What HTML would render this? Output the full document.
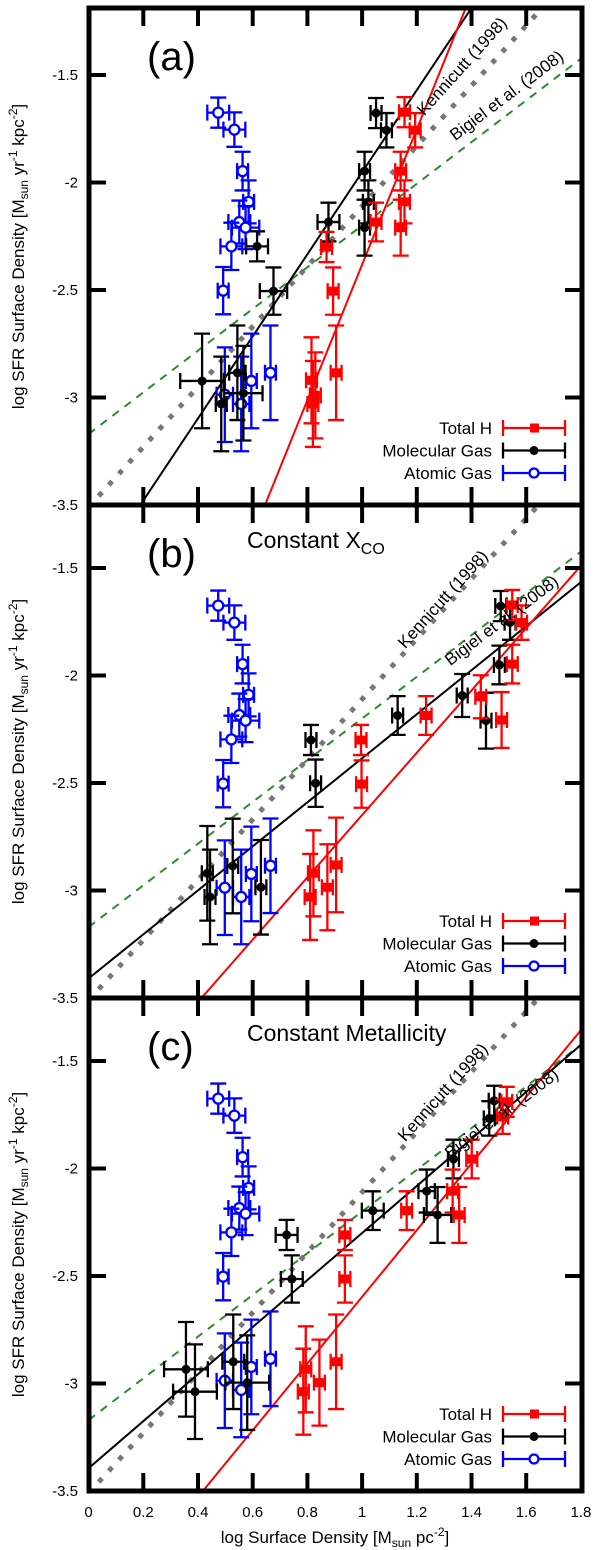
<!DOCTYPE html>
<html><head><meta charset="utf-8"><style>
html,body{margin:0;padding:0;background:#fff;width:600px;height:1550px;overflow:hidden}
svg{display:block;font-family:"Liberation Sans",sans-serif}
</style></head><body>
<svg id="chart" width="600" height="1550" viewBox="0 0 600 1550" xmlns="http://www.w3.org/2000/svg"></svg>
<script>
// ---- shared data ----
const xTicks = [0,0.2,0.4,0.6,0.8,1,1.2,1.4,1.6,1.8];
const xTickLabels = ["0","0.2","0.4","0.6","0.8","1","1.2","1.4","1.6","1.8"];
const yTicks = [-1.5,-2,-2.5,-3,-3.5];
const yTickLabels = ["-1.5","-2","-2.5","-3","-3.5"];
const panelNames = ["a","b","c"];
const panelTitles = ["", "Constant X", "Constant Metallicity"];
// Kennicutt & Bigiel relations: [slope, intercept]
const kennicuttFit = [1.4,-3.51];
const bigielFit = [0.97,-3.17];
// fitted lines per panel: [slope, intercept]
const blackFits = [[1.909,-3.861],[1.024,-3.409],[1.094,-3.394]];
const redFits = [[3.15,-5.532],[1.449,-4.098],[1.551,-4.148]];
// atomic gas (same in all panels)
const blueX = [0.474,0.533,0.563,0.585,0.551,0.574,0.522,0.492,0.498,0.558,0.595,0.665];
const blueY = [-1.675,-1.754,-1.947,-2.09,-2.184,-2.21,-2.297,-2.503,-2.987,-3.03,-2.923,-2.885];
const blueYerr = [0.07,0.08,0.09,0.1,0.1,0.1,0.11,0.11,0.22,0.22,0.22,0.22];
const blueXerr = [0.04,0.04,0.02,0.02,0.04,0.05,0.04,0.02,0.03,0.03,0.02,0.02];
// molecular gas
const blackX = [
 [1.051,1.089,1.009,1.023,1.009,0.877,0.616,0.676,0.415,0.485,0.544,0.566],
 [1.507,1.541,1.502,1.366,1.453,1.130,0.813,0.830,0.434,0.444,0.527,0.630],
 [1.483,1.465,1.334,1.236,1.276,1.039,0.724,0.743,0.356,0.389,0.529,0.580]];
const blackY = [
 [-1.677,-1.757,-1.947,-2.09,-2.21,-2.184,-2.297,-2.505,-2.923,-3.03,-2.885,-2.98],
 [-1.677,-1.754,-1.951,-2.093,-2.21,-2.186,-2.3,-2.501,-2.92,-3.03,-2.886,-2.985],
 [-1.685,-1.767,-1.956,-2.105,-2.216,-2.196,-2.309,-2.514,-2.934,-3.038,-2.899,-2.996]];
const blackYerr = [0.07,0.08,0.09,0.1,0.13,0.09,0.07,0.11,0.22,0.22,0.22,0.22];
const blackXerr = [
 [0.02,0.02,0.02,0.02,0.02,0.04,0.04,0.05,0.08,0.02,0.03,0.07],
 [0.02,0.02,0.02,0.02,0.02,0.02,0.02,0.02,0.02,0.02,0.02,0.02],
 [0.02,0.02,0.02,0.03,0.05,0.04,0.04,0.04,0.08,0.08,0.04,0.08]];
// total H
const redX = [
 [1.155,1.194,1.141,1.155,1.141,1.051,0.870,0.894,0.905,0.815,0.829,0.820],
 [1.549,1.583,1.549,1.434,1.510,1.234,0.996,0.998,0.905,0.822,0.873,0.810],
 [1.529,1.514,1.401,1.331,1.355,1.163,0.937,0.937,0.905,0.794,0.844,0.785]];
const redY = [
 [-1.673,-1.757,-1.947,-2.09,-2.21,-2.184,-2.3,-2.505,-2.885,-2.92,-2.99,-3.03],
 [-1.672,-1.754,-1.947,-2.099,-2.207,-2.186,-2.3,-2.505,-2.881,-2.92,-2.985,-3.03],
 [-1.69,-1.759,-1.956,-2.105,-2.216,-2.196,-2.309,-2.514,-2.899,-2.934,-2.996,-3.038]];
const redYerr = [0.07,0.08,0.09,0.1,0.13,0.09,0.07,0.11,0.22,0.2,0.2,0.2];
const redXerr = [0.02,0.02,0.02,0.02,0.02,0.02,0.02,0.02,0.02,0.02,0.02,0.02];

// ---- layout ----
const NS = "http://www.w3.org/2000/svg";
const svg = document.getElementById("chart");
const X0 = 88.6, XS = 273.5, LEFT = 89, RIGHT = 582, YS = 215;
const bottoms = [505, 998, 1491];
const tops = [8, 505, 998];
function sx(v){ return X0 + v*XS; }
function mk(tag, attrs, parent){
  const e = document.createElementNS(NS, tag);
  for (const k in attrs) e.setAttribute(k, attrs[k]);
  (parent||svg).appendChild(e);
  return e;
}
const defs = mk("defs",{});

panelNames.forEach((pn, p) => {
  const bot = bottoms[p], top = tops[p];
  const sy = v => bot - (v + 3.5) * YS;
  const g = mk("g", {});
  
  
  const cp = mk("clipPath", {id: "clip" + p}, defs);
  mk("rect", {x: LEFT, y: top, width: RIGHT - LEFT, height: bot - top}, cp);
  const plot = mk("g", {"clip-path": "url(#clip" + p + ")"}, g);

  function fitLine(fit, style, name){
    const l = mk("line", Object.assign({x1: sx(0), y1: sy(fit[1]), x2: sx(1.8), y2: sy(fit[0]*1.8 + fit[1]), fill: "none"}, style), plot);
    
    
  }
  fitLine(kennicuttFit, {stroke: "#777", "stroke-width": 5, "stroke-dasharray": "5 10"}, 'kennicutt-line');
  fitLine(bigielFit, {stroke: "#2e8b2e", "stroke-width": 2, "stroke-dasharray": "8 7"}, 'bigiel-line');
  fitLine(blackFits[p], {stroke: "#000", "stroke-width": 2}, 'molecular-fit-line');
  fitLine(redFits[p], {stroke: "#f00", "stroke-width": 2}, 'total-h-fit-line');

  function series(xs, ys, xe, ye, color, kind, name){
    const sg = mk("g", {stroke: color, "stroke-width": 2.3, fill: "none"}, plot);
    
    
    xs.forEach((xv, i) => {
      const cx = sx(xv), cy = sy(ys[i]);
      const ylo = sy(ys[i] - ye[i]), yhi = sy(ys[i] + ye[i]);
      const xl = sx(xv - xe[i]), xr = sx(xv + xe[i]);
      mk("path", {d: `M${cx},${yhi}V${ylo}M${cx-8},${yhi}H${cx+8}M${cx-8},${ylo}H${cx+8}M${xl},${cy}H${xr}M${xl},${cy-8}V${cy+8}M${xr},${cy-8}V${cy+8}`}, sg);
      let m;
      if (kind === "open") m = mk("circle", {cx: cx, cy: cy, r: 5, fill: "#fff"}, sg);
      else if (kind === "dot") m = mk("circle", {cx: cx, cy: cy, r: 4.5, fill: color, stroke: "none"}, sg);
      else m = mk("rect", {x: cx-4.5, y: cy-4.5, width: 9, height: 9, fill: color, stroke: "none"}, sg);
      
      
    });
  }
  series(blueX, blueY, blueXerr, blueYerr, "#00f", "open", 'atomic-gas-series');
  series(blackX[p], blackY[p], blackXerr[p], blackYerr, "#000", "dot", 'molecular-gas-series');
  series(redX[p], redY[p], redXerr, redYerr, "#f00", "square", 'total-h-series');

  // ticks
  xTicks.forEach((t, i) => {
    if (i === 0 || i === xTicks.length - 1) return;
    mk("line", {x1: sx(t), x2: sx(t), y1: bot, y2: bot - 18, stroke: "#000", "stroke-width": 4}, g);
    mk("line", {x1: sx(t), x2: sx(t), y1: top, y2: top + 18, stroke: "#000", "stroke-width": 4}, g);
  });
  yTicks.forEach((t, i) => {
    const y = sy(t);
    if (t > -3.5) {
      mk("line", {x1: LEFT, x2: LEFT + 17, y1: y, y2: y, stroke: "#000", "stroke-width": 4}, g);
      mk("line", {x1: RIGHT, x2: RIGHT - 17, y1: y, y2: y, stroke: "#000", "stroke-width": 4}, g);
    }
    const tl = mk("text", {x: 78, y: y + 5, "text-anchor": "end", "font-size": 15}, g);
    tl.textContent = yTickLabels[i];
    
    
  });
  const fr = mk("rect", {x: LEFT, y: top, width: RIGHT - LEFT, height: bot - top, fill: "none", stroke: "#000", "stroke-width": 5}, g);
  
  

  // relation labels
  const kx = p === 0 ? 466 : 447, ky = p === 0 ? top + 62 : top + 98;
  const kl = mk("text", {x: kx, y: ky, "text-anchor": "middle", "font-size": 17, transform: `rotate(-48 ${kx} ${ky})`}, g);
  kl.textContent = "Kennicutt (1998)";
  
  
  const bx = p === 0 ? 510 : 505, by = p === 0 ? top + 92 : top + 120;
  const bl = mk("text", {x: bx, y: by, "text-anchor": "middle", "font-size": 17, transform: `rotate(-37 ${bx} ${by})`}, g);
  bl.textContent = "Bigiel et al. (2008)";
  
  

  // panel label
  const pl = mk("text", {x: 147, y: top + 62, "font-size": 40}, g);
  pl.textContent = "(" + pn + ")";
  
  
  if (panelTitles[p]) {
    const tt = mk("text", {x: 247, y: top + 43, "font-size": 23}, g);
    tt.textContent = panelTitles[p];
    if (p === 1) {
      const sub = mk("tspan", {dy: 6, "font-size": 16}, tt);
      sub.textContent = "CO";
    }
    
    
  }

  // legend
  const legItems = [["Total H", "#f00", "square"], ["Molecular Gas", "#000", "dot"], ["Atomic Gas", "#00f", "open"]];
  legItems.forEach((it, i) => {
    const ly = bot - 77 + i * 22.5;
    const lg = mk("g", {}, g);
    
    
    const lt = mk("text", {x: 492, y: ly + 6, "text-anchor": "end", "font-size": 17}, lg);
    lt.textContent = it[0];
    mk("path", {d: `M503,${ly}H565M503,${ly-8}V${ly+8}M565,${ly-8}V${ly+8}`, stroke: it[1], "stroke-width": 2.3, fill: "none"}, lg);
    if (it[2] === "square") mk("rect", {x: 530, y: ly - 4.5, width: 9, height: 9, fill: it[1]}, lg);
    else if (it[2] === "dot") mk("circle", {cx: 534, cy: ly, r: 4.5, fill: it[1]}, lg);
    else mk("circle", {cx: 534, cy: ly, r: 4.5, fill: "#fff", stroke: it[1], "stroke-width": 2.3}, lg);
  });

  // y axis title
  const cy = (top + bot) / 2;
  const yt = mk("text", {x: 24, y: cy, "text-anchor": "middle", "font-size": 17, transform: `rotate(-90 24 ${cy})`}, g);
  yt.innerHTML = 'log SFR Surface Density [M<tspan dy="4" font-size="12">sun</tspan><tspan dy="-4">  yr</tspan><tspan dy="-7" font-size="12">-1</tspan><tspan dy="7"> kpc</tspan><tspan dy="-7" font-size="12">-2</tspan><tspan dy="7">]</tspan>';
  
  
});

// x tick labels
xTicks.forEach((t, i) => {
  const tl = mk("text", {x: sx(t), y: 1517, "text-anchor": "middle", "font-size": 15});
  tl.textContent = xTickLabels[i];
  
  
});
const xt = mk("text", {x: 335, y: 1543, "text-anchor": "middle", "font-size": 17});
xt.innerHTML = 'log Surface Density [M<tspan dy="4" font-size="12">sun</tspan><tspan dy="-4"> pc</tspan><tspan dy="-7" font-size="12">-2</tspan><tspan dy="7">]</tspan>';


</script>
</body></html>
